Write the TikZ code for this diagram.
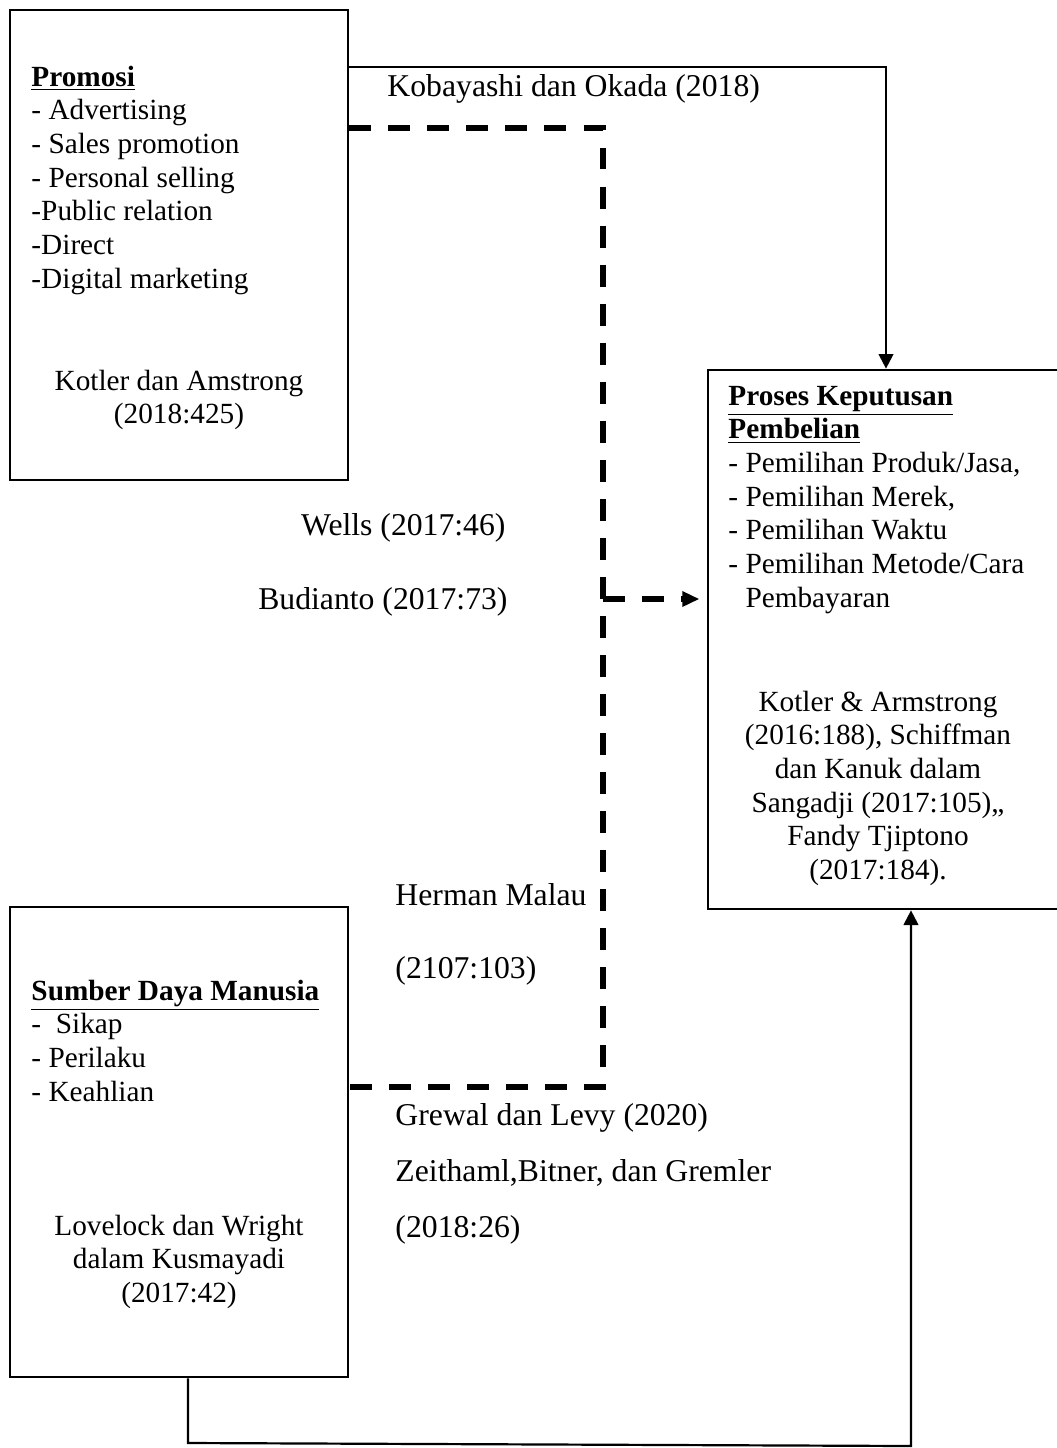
\documentclass[tikz,border=0pt]{standalone}
\usepackage{fontspec}
\setmainfont{Liberation Serif}
\usetikzlibrary{arrows.meta}

\begin{document}
\begin{tikzpicture}[
    x=0.41pt, y=-0.41pt,
    box/.style={draw, line width=1.1pt, rectangle, inner sep=0pt},
    txt/.style={inner sep=0pt, font=\fontsize{12pt}{13.8pt}\selectfont},
    note/.style={inner sep=0pt, font=\fontsize{13pt}{15pt}\selectfont, anchor=base west},
    conn/.style={line width=0.9pt, -{Triangle[length=6pt,width=6pt]}},
    dashline/.style={line width=2.3pt, dash pattern=on 9pt off 7pt}
]
    \useasboundingbox (0,0) rectangle (1057,1448);

    % Promosi
    \node[box, minimum width=138.6pt, minimum height=192.7pt] (promosi) at (179,245) {};
    \node[txt, align=left, anchor=north west] (promosi-items) at (31,62) {
        \strut\underline{\textbf{Promosi}}\\
        - Advertising\\
        - Sales promotion\\
        - Personal selling\\
        -Public relation\\
        -Direct\\
        -Digital marketing
    };
    \node[txt, align=center, anchor=north] (promosi-ref) at (179,366) {
        \strut Kotler dan Amstrong\\
        (2018:425)
    };

    % Proses Keputusan Pembelian
    \node[box, minimum width=145.1pt, minimum height=221pt] (proses) at (885,639.5) {};
    \node[txt, align=left, anchor=north west] (proses-items) at (728,381) {
        \strut\underline{\textbf{Proses Keputusan}}\\
        \underline{\textbf{Pembelian}}\\
        - Pemilihan Produk/Jasa,\\
        - Pemilihan Merek,\\
        - Pemilihan Waktu\\
        - Pemilihan Metode/Cara\\
        \hspace*{7pt}Pembayaran
    };
    \node[txt, align=center, anchor=north] (proses-ref) at (878,687) {
        \strut Kotler \& Armstrong\\
        (2016:188), Schiffman\\
        dan Kanuk dalam\\
        Sangadji (2017:105),,\\
        Fandy Tjiptono\\
        (2017:184).
    };

    % Sumber Daya Manusia
    \node[box, minimum width=138.6pt, minimum height=192.7pt] (sdm) at (179,1142) {};
    \node[txt, align=left, anchor=north west] (sdm-items) at (31,976) {
        \strut\underline{\textbf{Sumber Daya Manusia}}\\
        -\ \ Sikap\\
        - Perilaku\\
        - Keahlian
    };
    \node[txt, align=center, anchor=north] (sdm-ref) at (179,1211) {
        \strut Lovelock dan Wright\\
        dalam Kusmayadi\\
        (2017:42)
    };

    % Labels along the lines
    \node[note] (kobayashi) at (387,96) {Kobayashi dan Okada (2018)};
    \node[note, anchor=base east] (wells) at (506,535) {Wells (2017:46)};
    \node[note, anchor=base east] (budianto) at (508,609) {Budianto (2017:73)};
    \node[note] (malau) at (395,905) {Herman Malau};
    \node[note] (malau-yr) at (395,978) {(2107:103)};
    \node[note] (grewal) at (395,1125) {Grewal dan Levy (2020)};
    \node[note] (zeithaml) at (395,1181) {Zeithaml,Bitner, dan Gremler};
    \node[note] (zeithaml-yr) at (395,1237) {(2018:26)};

    % Connectors
    \coordinate (kturn) at (886,67);
    \draw[conn] (promosi.east |- kturn) -- (kturn) -- (proses.north -| kturn);

    \coordinate (dtop) at (603,128);
    \coordinate (dbot) at (603,1087);
    \coordinate (dmid) at (603,599);
    \draw[dashline] (promosi.east |- dtop) -- (dtop) -- (dbot) -- (sdm.east |- dbot);
    \draw[dashline, -{Triangle[length=7pt,width=6pt]}, shorten >=3pt] (dmid) -- (proses.west |- dmid);

    \coordinate (bleft) at (188,1443);
    \coordinate (bright) at (911,1446);
    \draw[conn] (sdm.south -| bleft) -- (bleft) -- (bright) -- (proses.south -| bright);

\end{tikzpicture}
\end{document}
